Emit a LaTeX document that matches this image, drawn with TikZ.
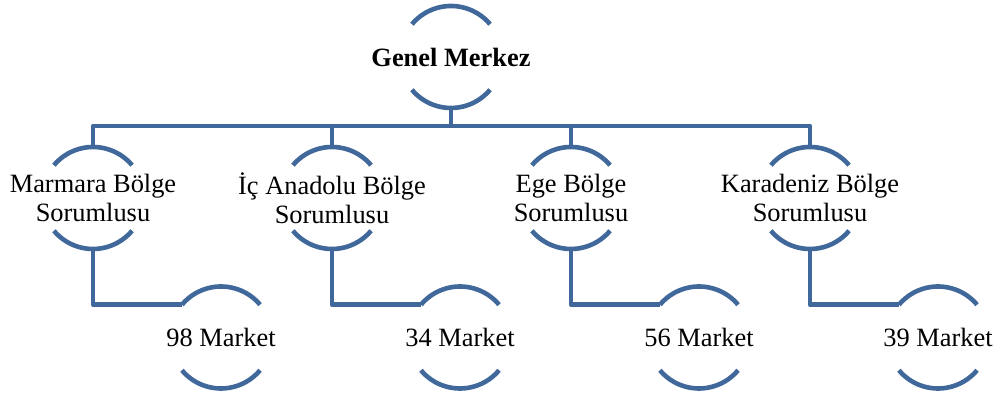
\documentclass[tikz,border=0pt]{standalone}
\usepackage{fontspec}
\setmainfont{Liberation Serif}
\definecolor{linkblue}{RGB}{64,104,154}
\begin{document}
\begin{tikzpicture}[x=0.5pt,y=0.5pt,
  ring/.style={circle,draw=none,minimum size=51pt,inner sep=0pt,outer sep=0pt},
  arcs/.style={draw=linkblue,line width=2.3pt},
  conn/.style={draw=linkblue,line width=2.3pt,line join=round},
  txt/.style={font=\fontsize{13.2}{14.6}\selectfont,align=center}]
\useasboundingbox (0,0) rectangle (997,394);
% nodes: empty circles, text placed at the centre
\node[ring,label={[txt,font=\fontsize{13.2}{14.6}\selectfont\bfseries]center:Genel Merkez}] (g) at (451,337) {};
\node[ring,label={[txt]center:Marmara Bölge\\Sorumlusu}] (m1) at (93,196) {};
\node[ring,label={[txt]center:İç Anadolu Bölge\\Sorumlusu}] (m2) at (332,196) {};
\node[ring,label={[txt]center:Ege Bölge\\Sorumlusu}] (m3) at (571,196) {};
\node[ring,label={[txt]center:Karadeniz Bölge\\Sorumlusu}] (m4) at (810,196) {};
\node[ring,label={[txt]center:98 Market}] (t1) at (221,56.5) {};
\node[ring,label={[txt]center:34 Market}] (t2) at (460,56.5) {};
\node[ring,label={[txt]center:56 Market}] (t3) at (699,56.5) {};
\node[ring,label={[txt]center:39 Market}] (t4) at (938,56.5) {};
% upper and lower arcs of every circle
\foreach \n in {g,m1,m2,m3,m4,t1,t2,t3,t4}{
  \draw[arcs] (\n.40) arc[start angle=40,end angle=140,radius=25.5pt];
  \draw[arcs] (\n.220) arc[start angle=220,end angle=320,radius=25.5pt];
}
% connectors
\coordinate (bus) at (451,268);
\draw[conn] (g.south) -- (bus);
\draw[conn] (m1.north) |- (bus) -| (m4.north);
\draw[conn] (m2.north) -- (m2.north |- bus);
\draw[conn] (m3.north) -- (m3.north |- bus);
\foreach \i in {1,2,3,4}{
  \draw[conn] (m\i.south) |- (t\i.140);
}
\end{tikzpicture}
\end{document}
